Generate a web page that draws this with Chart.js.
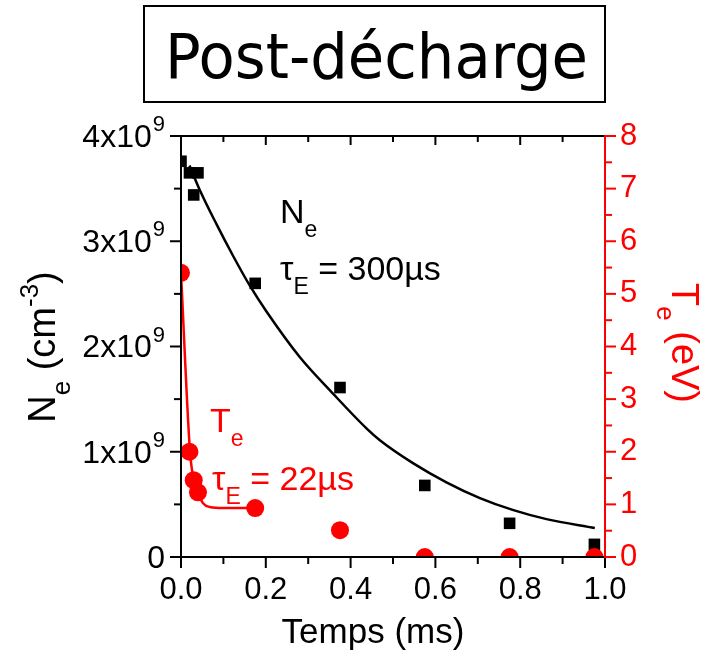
<!DOCTYPE html>
<html>
<head>
<meta charset="utf-8">
<script src="https://cdn.jsdelivr.net/npm/chart.js@4/dist/chart.umd.min.js"></script>
<style>
  html, body { margin: 0; padding: 0; background: #ffffff; }
  #wrap { width: 709px; height: 656px; }
</style>
</head>
<body>
<div id="wrap"><canvas id="c" width="709" height="656"></canvas></div>
<script>
// Measured points in the post-discharge (time in ms)
const timeMs     = [0, 0.02, 0.03, 0.04, 0.175, 0.375, 0.575, 0.775, 0.975];
const neMeasured = [3.76e9, 3.65e9, 3.44e9, 3.65e9, 2.60e9, 1.61e9, 0.68e9, 0.32e9, 0.12e9];
const teMeasured = [5.4, 2.0, 1.46, 1.23, 0.93, 0.51, 0, 0, 0];

// Exponential decay fits (tau = 300 us for Ne, 22 us for Te)
const neFitTime   = [0.02, 0.044, 0.084, 0.123, 0.162, 0.202, 0.28, 0.359, 0.438, 0.469, 0.548, 0.626, 0.705, 0.784, 0.862, 0.976];
const neFitValues = [3.72e9, 3.49e9, 3.16e9, 2.86e9, 2.58e9, 2.33e9, 1.90e9, 1.55e9, 1.22e9, 1.11e9, 0.89e9, 0.71e9, 0.56e9, 0.445e9, 0.36e9, 0.275e9];
const teFitTime   = [0, 0.021, 0.03, 0.04, 0.052, 0.068, 0.1, 0.175];
const teFitValues = [5.4, 2.03, 1.46, 1.22, 1.02, 0.95, 0.93, 0.93];

// Tick labels
const timeTickLabels = ['0.0', '0.2', '0.4', '0.6', '0.8', '1.0'];
const neTickMantissa = ['0', '1x10', '2x10', '3x10', '4x10'];
const neTickExponent = ['', '9', '9', '9', '9'];
const teTickLabels   = ['0', '1', '2', '3', '4', '5', '6', '7', '8'];

const FONT = "'Liberation Sans', Arial, sans-serif";
const RED = '#ff0000';

const pts = (xs, ys) => xs.map((x, i) => ({ x, y: ys[i] }));

// Text with subscripts / superscripts
function richText(ctx, parts, x, y, size, color, align) {
  const fontFor = k => (k ? Math.round(size * 0.68) : size) + 'px ' + FONT;
  let total = 0;
  const widths = parts.map(([t, k]) => {
    ctx.font = fontFor(k);
    const w = ctx.measureText(t).width;
    total += w;
    return w;
  });
  let cx = align === 'center' ? x - total / 2 : x;
  ctx.fillStyle = color;
  ctx.textAlign = 'left';
  ctx.textBaseline = 'alphabetic';
  parts.forEach(([t, k], i) => {
    ctx.font = fontFor(k);
    const dy = k === 'sub' ? size * 0.4 : (k === 'sup' ? -size * 0.45 : 0);
    ctx.fillText(t, cx, y + dy);
    cx += widths[i];
  });
}

const frame = {
  id: 'frame',
  afterDraw(chart) {
    const { ctx, chartArea: a } = chart;
    const sx = chart.scales.x, sl = chart.scales.yNe, sr = chart.scales.yTe;
    const seg = (x1, y1, x2, y2) => { ctx.beginPath(); ctx.moveTo(x1, y1); ctx.lineTo(x2, y2); ctx.stroke(); };
    const majors = s => s.ticks.map(t => s.getPixelForValue(t.value));
    const minors = p => p.slice(1).map((v, i) => (v + p[i]) / 2);

    ctx.save();
    ctx.lineCap = 'square';
    ctx.lineWidth = 2;
    ctx.strokeStyle = '#000';

    // Bottom and top axes
    seg(a.left, a.bottom, a.right, a.bottom);
    seg(a.left, a.top, a.right, a.top);
    const xm = majors(sx), xn = minors(xm);
    xm.forEach(p => { seg(p, a.bottom, p, a.bottom + 10); seg(p, a.top, p, a.top + 8); });
    xn.forEach(p => { seg(p, a.bottom, p, a.bottom + 6); seg(p, a.top, p, a.top + 5); });

    // Left axis (Ne)
    seg(a.left, a.top, a.left, a.bottom);
    const lm = majors(sl), ln = minors(lm);
    lm.forEach(p => seg(a.left, p, a.left - 10, p));
    ln.forEach(p => seg(a.left, p, a.left - 6, p));

    // Right axis (Te)
    ctx.strokeStyle = RED;
    seg(a.right, a.top, a.right, a.bottom);
    const rm = majors(sr), rn = minors(rm);
    rm.forEach(p => seg(a.right, p, a.right + 10, p));
    rn.forEach(p => seg(a.right, p, a.right + 6, p));

    // Left tick labels with exponents
    sl.ticks.forEach((t, i) => {
      const y = sl.getPixelForValue(t.value);
      const exp = neTickExponent[i];
      ctx.fillStyle = '#000';
      ctx.textBaseline = 'middle';
      ctx.textAlign = 'right';
      let right = 165;
      if (exp) {
        ctx.font = '22px ' + FONT;
        ctx.fillText(exp, right, y - 11);
        right -= ctx.measureText(exp).width + 1;
      }
      ctx.font = '32px ' + FONT;
      ctx.fillText(neTickMantissa[i], right, y + 2);
    });

    // Axis titles
    ctx.save();
    ctx.translate(55, 347);
    ctx.rotate(-Math.PI / 2);
    richText(ctx, [['N', ''], ['e', 'sub'], [' (cm', ''], ['-3', 'sup'], [')', '']], 0, 0, 38, '#000', 'center');
    ctx.restore();

    ctx.save();
    ctx.translate(672, 343);
    ctx.rotate(Math.PI / 2);
    richText(ctx, [['T', ''], ['e', 'sub'], [' (eV)', '']], 0, 0, 38, RED, 'center');
    ctx.restore();

    richText(ctx, [['Temps (ms)', '']], 373, 643, 35, '#000', 'center');

    // In-plot annotations
    richText(ctx, [['N', ''], ['e', 'sub']], 280, 223, 34, '#000', 'left');
    richText(ctx, [['\u03C4', ''], ['E', 'sub'], [' = 300\u00B5s', '']], 280, 280, 34, '#000', 'left');
    richText(ctx, [['T', ''], ['e', 'sub']], 210, 432, 34, RED, 'left');
    richText(ctx, [['\u03C4', ''], ['E', 'sub'], [' = 22\u00B5s', '']], 212, 490, 34, RED, 'left');

    // Boxed heading
    ctx.strokeStyle = '#000';
    ctx.lineWidth = 2;
    ctx.lineCap = 'butt';
    ctx.strokeRect(144, 6, 461, 96);
    ctx.fillStyle = '#000';
    ctx.font = '62px "DejaVu Sans", sans-serif';
    ctx.textAlign = 'left';
    ctx.textBaseline = 'alphabetic';
    const label = 'Post-d\u00E9charge';
    const w = ctx.measureText(label).width;
    ctx.translate(165, 78);
    ctx.scale(423 / w, 1);
    ctx.fillText(label, 0, 0);
    ctx.restore();
  }
};

new Chart(document.getElementById('c'), {
  type: 'scatter',
  data: {
    datasets: [
      {
        label: 'Te', data: pts(timeMs, teMeasured), yAxisID: 'yTe',
        pointStyle: 'circle', pointRadius: 9, backgroundColor: RED, borderWidth: 0,
        order: 1, clip: 0
      },
      {
        type: 'line', label: 'Te fit', data: pts(teFitTime, teFitValues), yAxisID: 'yTe',
        borderColor: RED, borderWidth: 2.5, pointRadius: 0, fill: false,
        cubicInterpolationMode: 'monotone', order: 2, clip: 0
      },
      {
        label: 'Ne', data: pts(timeMs, neMeasured), yAxisID: 'yNe',
        pointStyle: 'rect', pointRadius: 8.2, backgroundColor: '#000', borderWidth: 0,
        order: 3, clip: 0
      },
      {
        type: 'line', label: 'Ne fit', data: pts(neFitTime, neFitValues), yAxisID: 'yNe',
        borderColor: '#000', borderWidth: 2.5, pointRadius: 0, fill: false,
        cubicInterpolationMode: 'monotone', order: 4, clip: 0
      }
    ]
  },
  options: {
    responsive: false,
    animation: false,
    events: [],
    layout: { padding: { top: 136, left: 0, right: 0, bottom: 0 } },
    plugins: { legend: { display: false }, tooltip: { enabled: false } },
    scales: {
      x: {
        type: 'linear', min: 0, max: 1,
        grid: { display: false, drawTicks: false }, border: { display: false },
        ticks: {
          stepSize: 0.2, padding: 15, color: '#000', font: { family: FONT, size: 31 },
          maxRotation: 0, autoSkip: false,
          callback: (v, i) => timeTickLabels[i]
        },
        afterFit(s) { s.height = 656 - 557; }
      },
      yNe: {
        type: 'linear', position: 'left', min: 0, max: 4e9,
        grid: { display: false, drawTicks: false }, border: { display: false },
        ticks: { display: false, stepSize: 1e9 },
        afterFit(s) { s.width = 181; }
      },
      yTe: {
        type: 'linear', position: 'right', min: 0, max: 8,
        grid: { display: false, drawTicks: false }, border: { display: false },
        ticks: {
          stepSize: 1, padding: 15, color: RED, font: { family: FONT, size: 31 },
          autoSkip: false, callback: (v, i) => teTickLabels[i]
        },
        afterFit(s) { s.width = 709 - 605; }
      }
    }
  },
  plugins: [frame]
});
</script>
</body>
</html>
